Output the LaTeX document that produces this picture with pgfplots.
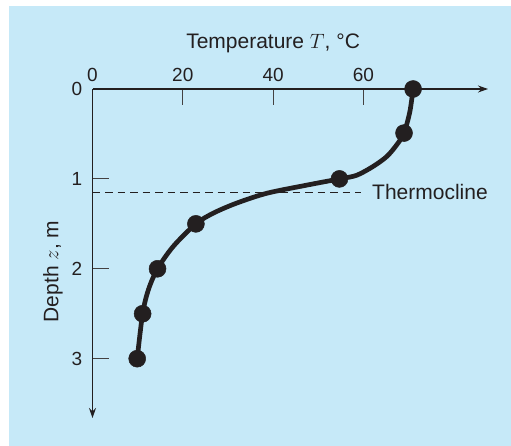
\documentclass[border=0pt]{standalone}
\usepackage{pgfplots}
\pgfplotsset{compat=1.18}
\usepackage{fontspec}
\setmainfont{Liberation Sans}
\usetikzlibrary{arrows.meta}
\definecolor{bg}{RGB}{198,233,248}
\definecolor{ink}{RGB}{35,31,32}
\begin{document}
\begin{tikzpicture}
\useasboundingbox (0pt,0pt) rectangle (511pt,-446pt);
\fill[bg] (9pt,-6pt) rectangle (511pt,-446pt);
\begin{axis}[
  at={(92.5pt,-89pt)}, anchor=north west,
  scale only axis, width=395.5pt, height=329pt,
  xmin=0, xmax=87.6, ymin=0, ymax=3.66,
  y dir=reverse,
  axis lines=middle,
  axis line style={ink, line width=1.1pt, -{Stealth[length=10pt,width=7pt]}},
  hide obscured x ticks=false, hide obscured y ticks=false,
  xtick={0,20,40,60}, ytick={0,1,2,3},
  tick align=inside,
  major tick length=16pt,
  tick style={ink!85, line width=1pt},
  /pgf/number format/assume math mode=true,
  ticklabel style={font=\fontsize{19}{22}\selectfont, text=ink, inner sep=0pt},
  xticklabel style={anchor=south, yshift=7pt},
  yticklabel style={anchor=east, xshift=-10pt},
  every axis x label/.style={at={(axis cs:40,-0.4)}, anchor=south, inner sep=0pt,
    font=\fontsize{21}{25}\selectfont, text=ink},
  every axis y label/.style={at={(axis cs:-8.75,2.03)}, rotate=90, anchor=center,
    inner sep=0pt, font=\fontsize{21}{25}\selectfont, text=ink},
  xlabel={Temperature $T$, \textdegree C},
  ylabel={Depth $z$, m},
  clip=false,
]
\addplot[ink, line width=1.1pt, dash pattern=on 7.5pt off 5pt]
  coordinates {(0,1.15) (59.5,1.15)};
\node[anchor=west, inner sep=0pt, font=\fontsize{21}{25}\selectfont, text=ink]
  at (axis cs:61.9,1.15) {Thermocline};
% curve as drawn in the figure
\addplot[ink, line width=4.7pt, smooth, tension=0.5, no marks]
  coordinates {(71,0) (70.3,0.25) (69,0.49) (67.4,0.62) (65.2,0.75) (62.2,0.86)
    (58.5,0.96) (54.7,1) (47.4,1.07) (38.6,1.16) (31.9,1.27) (26.8,1.38)
    (22.9,1.5) (17.9,1.75) (14.4,2) (12.4,2.23) (11.1,2.5) (9.9,3)};
% measured points
\addplot[only marks, mark=*, mark size=8.5pt,
  mark options={fill=ink, draw=ink, line width=0.5pt}]
  coordinates {(71,0) (69,0.49) (54.7,1) (22.9,1.5) (14.4,2) (11.1,2.5) (9.9,3)};
\end{axis}
\end{tikzpicture}
\end{document}
